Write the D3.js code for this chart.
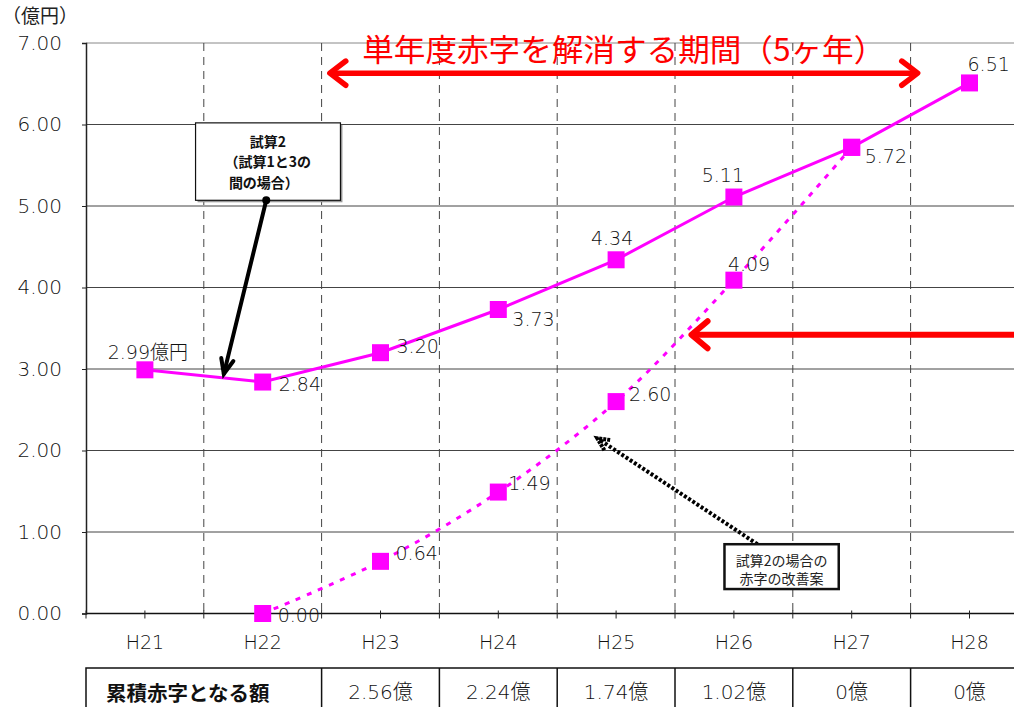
<!DOCTYPE html>
<html lang="ja">
<head>
<meta charset="utf-8">
<script src="https://cdn.jsdelivr.net/npm/d3@7"></script>
<style>
  body { margin: 0; background: #fff; }
  svg { display: block; font-family: "DejaVu Sans", "Noto Sans CJK JP", sans-serif; }
  .num { font-weight: 200; }
  .jp { font-family: "Noto Sans CJK JP", sans-serif; }
  .grid-h { stroke: #444; stroke-width: 1; }
  .grid-v { stroke: #444; stroke-width: 1; stroke-dasharray: 8, 6; }
</style>
</head>
<body>
<div id="chart"></div>
<script>
// Chart data
const categories = ["H21", "H22", "H23", "H24", "H25", "H26", "H27", "H28"]
const trialValues = [2.99, 2.84, 3.20, 3.73, 4.34, 5.11, 5.72, 6.51]
const trialLabels = ["2.99億円", "2.84", "3.20", "3.73", "4.34", "5.11", "5.72", "6.51"]
const improvedCategories = ["H22", "H23", "H24", "H25", "H26", "H27"]
const improvedValues = [0.00, 0.64, 1.49, 2.60, 4.09, 5.72]
const improvedLabels = ["0.00", "0.64", "1.49", "2.60", "4.09", ""]
const yTicks = [0, 1, 2, 3, 4, 5, 6, 7]
const tableHeader = "累積赤字となる額"
const tableCategories = ["H23", "H24", "H25", "H26", "H27", "H28"]
const tableValues = ["2.56億", "2.24億", "1.74億", "1.02億", "0億", "0億"]

// Label offsets from the marker centre [dx, dy, anchor]
const trialLabelOffsets = [[3, -18, "middle"], [16, 2, "start"], [16, -7, "start"], [14, 9, "start"],
  [-4, -22, "middle"], [-11, -22, "middle"], [13, 9, "start"], [-2, -19, "start"]]
const improvedLabelOffsets = [[15, 1, "start"], [15, -8, "start"], [10, -9, "start"], [13, -8, "start"], [-6, -16, "start"]]

const width = 1014
const height = 707
const plot = {left: 86, top: 43, bottom: 613.5, band: 117.8}
const magenta = "#ff00ff"
const red = "#ff0000"

const svg = d3.select("#chart")
  .append("svg")
  .attr("width", width)
  .attr("height", height)

const xScale = d3.scaleBand()
  .domain(categories)
  .range([plot.left, plot.left + plot.band * categories.length])
  .paddingInner(0)
  .paddingOuter(0)

const yScale = d3.scaleLinear()
  .domain([0, 7])
  .range([plot.bottom, plot.top])

const cx = d => xScale(d) + xScale.bandwidth() / 2
// position in band units, measured from the left of the plot
const bx = u => plot.left + u * xScale.bandwidth()

// Horizontal gridlines
svg.append("g")
  .selectAll("line")
  .data(yTicks.filter(d => d > 0))
  .join("line")
  .attr("class", "grid-h")
  .attr("x1", plot.left)
  .attr("x2", width)
  .attr("y1", d => yScale(d))
  .attr("y2", d => yScale(d))
  .style("stroke", d => d === 7 ? "#888" : "#444")

// Vertical dashed separators between categories
svg.append("g")
  .selectAll("line")
  .data(categories.slice(1))
  .join("line")
  .attr("class", "grid-v")
  .attr("x1", d => xScale(d))
  .attr("x2", d => xScale(d))
  .attr("y1", plot.top)
  .attr("y2", plot.bottom)

// Y axis
const yAxis = d3.axisLeft(yScale)
  .tickValues(yTicks)
  .tickSize(4)
  .tickFormat(d3.format(".2f"))
const yAxisG = svg.append("g")
  .attr("transform", "translate(" + plot.left + ",0)")
  .call(yAxis)
yAxisG.select(".domain").attr("stroke", "#222").attr("stroke-width", 1.5)
yAxisG.selectAll(".tick line").attr("stroke", "#222")
yAxisG.selectAll(".tick text")
  .attr("class", "num")
  .attr("x", -24)
  .style("font-size", "20px")
  .style("font-family", "DejaVu Sans")
  .attr("fill", "#111")

// X axis: ticks at centres and at boundaries
const xAxisG = svg.append("g")
  .attr("transform", "translate(0," + plot.bottom + ")")
xAxisG.append("line")
  .attr("x1", plot.left)
  .attr("x2", width)
  .attr("stroke", "#111")
  .attr("stroke-width", 1.5)
const tickXs = []
categories.forEach(c => {
  tickXs.push(xScale(c))
  tickXs.push(cx(c))
})
xAxisG.selectAll(".xtick")
  .data(tickXs)
  .join("line")
  .attr("class", "xtick")
  .attr("x1", d => d)
  .attr("x2", d => d)
  .attr("y1", -3)
  .attr("y2", 5)
  .attr("stroke", "#222")
xAxisG.selectAll(".xlabel")
  .data(categories)
  .join("text")
  .attr("class", "xlabel num")
  .attr("x", d => cx(d))
  .attr("y", 28)
  .attr("text-anchor", "middle")
  .attr("dominant-baseline", "central")
  .style("font-size", "19px")
  .attr("fill", "#111")
  .text(d => d)

// Unit label
svg.append("text")
  .attr("class", "jp")
  .attr("x", 2)
  .attr("y", 14)
  .attr("dominant-baseline", "central")
  .style("font-size", "19px")
  .attr("fill", "#222")
  .text("（億円）")

// Improved plan (dotted, smoothed)
const improvedLine = d3.line()
  .x((d, i) => cx(improvedCategories[i]))
  .y(d => yScale(d))
  .curve(d3.curveCatmullRom.alpha(0.5))
svg.append("path")
  .datum(improvedValues)
  .attr("d", improvedLine)
  .attr("fill", "none")
  .attr("stroke", magenta)
  .attr("stroke-width", 3)
  .attr("stroke-dasharray", "5,7")

// Trial 2 line (solid)
const trialLine = d3.line()
  .x((d, i) => cx(categories[i]))
  .y(d => yScale(d))
svg.append("path")
  .datum(trialValues)
  .attr("d", trialLine)
  .attr("fill", "none")
  .attr("stroke", magenta)
  .attr("stroke-width", 3)

// Markers
const markerSize = 17
const drawMarkers = (cats, values) => {
  svg.append("g")
    .selectAll("rect")
    .data(values)
    .join("rect")
    .attr("x", (d, i) => cx(cats[i]) - markerSize / 2)
    .attr("y", d => yScale(d) - markerSize / 2)
    .attr("width", markerSize)
    .attr("height", markerSize)
    .attr("fill", magenta)
}
drawMarkers(improvedCategories, improvedValues)
drawMarkers(categories, trialValues)

// Data labels
const drawLabels = (cats, values, labels, offsets) => {
  svg.append("g")
    .selectAll("text")
    .data(values.map((v, i) => ({v: v, c: cats[i], t: labels[i], o: offsets[i]})).filter(d => d.t))
    .join("text")
    .attr("class", "num")
    .attr("x", d => cx(d.c) + d.o[0])
    .attr("y", d => yScale(d.v) + d.o[1])
    .attr("text-anchor", d => d.o[2])
    .attr("dominant-baseline", "central")
    .style("font-size", "19px")
    .attr("fill", "#111")
    .text(d => d.t)
}
drawLabels(categories, trialValues, trialLabels, trialLabelOffsets)
drawLabels(improvedCategories, improvedValues, improvedLabels, improvedLabelOffsets)

// Chevron helper for arrow heads
const chevron = (x1, y1, x2, y2, len, angle) => {
  const a = Math.atan2(y1 - y2, x1 - x2)
  const p1 = [x2 + len * Math.cos(a + angle), y2 + len * Math.sin(a + angle)]
  const p2 = [x2 + len * Math.cos(a - angle), y2 + len * Math.sin(a - angle)]
  return "M" + p1 + "L" + x2 + "," + y2 + "L" + p2
}

// Red title and double arrow
svg.append("text")
  .attr("class", "jp")
  .attr("x", bx(4.565))
  .attr("y", yScale(6.94))
  .attr("text-anchor", "middle")
  .attr("dominant-baseline", "central")
  .style("font-size", "31px")
  .attr("fill", red)
  .attr("textLength", 523)
  .attr("lengthAdjust", "spacingAndGlyphs")
  .text("単年度赤字を解消する期間（5ヶ年）")

const topArrow = {x1: bx(2.07), x2: bx(7.06), y: yScale(6.63)}
const arrowG = svg.append("g")
  .attr("fill", "none")
  .attr("stroke", red)
  .attr("stroke-width", 5.5)
  .attr("stroke-linecap", "round")
  .attr("stroke-linejoin", "round")
arrowG.append("line")
  .attr("x1", topArrow.x1 + 3).attr("x2", topArrow.x2 - 3)
  .attr("y1", topArrow.y).attr("y2", topArrow.y)
arrowG.append("path").attr("d", chevron(topArrow.x2, topArrow.y, topArrow.x1, topArrow.y, 20, 0.65))
arrowG.append("path").attr("d", chevron(topArrow.x1, topArrow.y, topArrow.x2, topArrow.y, 20, 0.65))

// Red arrow coming from the right
const sideArrow = {x1: bx(8.3), x2: bx(5.14), y: yScale(3.42)}
arrowG.append("line")
  .attr("x1", sideArrow.x1).attr("x2", sideArrow.x2 + 3)
  .attr("y1", sideArrow.y).attr("y2", sideArrow.y)
  .attr("stroke-width", 6)
arrowG.append("path")
  .attr("d", chevron(sideArrow.x1, sideArrow.y, sideArrow.x2, sideArrow.y, 21, 0.7))
  .attr("stroke-width", 6)

// Callout box: trial 2
const box1 = {x1: bx(0.93), x2: bx(2.16), y1: yScale(6.02), y2: yScale(5.07)}
svg.append("rect")
  .attr("x", box1.x1 + 2).attr("y", box1.y1 + 2)
  .attr("width", box1.x2 - box1.x1).attr("height", box1.y2 - box1.y1)
  .attr("fill", "#999")
svg.append("rect")
  .attr("x", box1.x1).attr("y", box1.y1)
  .attr("width", box1.x2 - box1.x1).attr("height", box1.y2 - box1.y1)
  .attr("fill", "#fff")
  .attr("stroke", "#111")
  .attr("stroke-width", 1.2)
const box1Lines = [["試算2", "middle", 0.5], ["（試算1と3の", "start", 0.2], ["間の場合）", "start", 0.23]]
svg.append("g")
  .selectAll("text")
  .data(box1Lines)
  .join("text")
  .attr("class", "jp")
  .attr("x", d => box1.x1 + d[2] * (box1.x2 - box1.x1))
  .attr("y", (d, i) => box1.y1 + 24 + i * 20.5)
  .attr("text-anchor", d => d[1])
  .style("font-size", "14px")
  .style("font-weight", "bold")
  .attr("fill", "#111")
  .text(d => d[0])

// Black arrow from box 1 to the trial line
const blackArrow = {x1: bx(1.53), y1: yScale(5.07), x2: bx(1.17), y2: yScale(2.94)}
const blackG = svg.append("g")
  .attr("fill", "none")
  .attr("stroke", "#000")
  .attr("stroke-width", 4)
  .attr("stroke-linecap", "round")
blackG.append("line")
  .attr("x1", blackArrow.x1).attr("y1", blackArrow.y1)
  .attr("x2", blackArrow.x2).attr("y2", blackArrow.y2)
blackG.append("path").attr("d", chevron(blackArrow.x1, blackArrow.y1, blackArrow.x2, blackArrow.y2, 16, 0.4))
svg.append("circle")
  .attr("cx", blackArrow.x1).attr("cy", blackArrow.y1)
  .attr("r", 4).attr("fill", "#000")

// Dotted black arrow from box 2 to the improved line
const dotArrow = {x1: bx(5.70), y1: yScale(0.85), x2: bx(4.34), y2: yScale(2.15)}
const dotG = svg.append("g")
  .attr("fill", "none")
  .attr("stroke", "#000")
  .attr("stroke-width", 4)
dotG.append("line")
  .attr("x1", dotArrow.x1).attr("y1", dotArrow.y1)
  .attr("x2", dotArrow.x2 + 3).attr("y2", dotArrow.y2 + 2)
  .attr("stroke-dasharray", "3,2")
dotG.append("path")
  .attr("d", chevron(dotArrow.x1, dotArrow.y1, dotArrow.x2, dotArrow.y2, 14, 0.45))
  .attr("stroke-dasharray", "3,1")

// Callout box: improvement
const box2 = {x1: bx(5.42), x2: bx(6.39), y1: yScale(0.85), y2: yScale(0.30)}
svg.append("rect")
  .attr("x", box2.x1).attr("y", box2.y1)
  .attr("width", box2.x2 - box2.x1).attr("height", box2.y2 - box2.y1)
  .attr("fill", "#fff")
  .attr("stroke", "#111")
  .attr("stroke-width", 2.5)
const box2Text = svg.append("text")
  .attr("class", "jp")
  .style("font-size", "14px")
  .attr("fill", "#222")
box2Text.selectAll("tspan")
  .data(["試算2の場合の", "赤字の改善案"])
  .join("tspan")
  .attr("x", (box2.x1 + box2.x2) / 2)
  .attr("y", (d, i) => box2.y1 + 22 + i * 18)
  .attr("text-anchor", "middle")
  .text(d => d)

// Table of accumulated deficits
const tableTop = 668
const tableG = svg.append("g")
  .attr("fill", "none")
  .attr("stroke", "#111")
  .attr("stroke-width", 1.5)
tableG.append("rect")
  .attr("x", plot.left)
  .attr("y", tableTop)
  .attr("width", plot.band * categories.length)
  .attr("height", 60)
tableG.selectAll(".divider")
  .data(tableCategories)
  .join("line")
  .attr("class", "divider")
  .attr("x1", d => xScale(d))
  .attr("x2", d => xScale(d))
  .attr("y1", tableTop)
  .attr("y2", height + 10)
svg.append("text")
  .attr("class", "jp")
  .attr("x", 106)
  .attr("y", 692)
  .attr("dominant-baseline", "central")
  .style("font-size", "20.5px")
  .style("font-weight", "bold")
  .attr("fill", "#111")
  .text(tableHeader)
svg.append("g")
  .selectAll("text")
  .data(tableValues)
  .join("text")
  .attr("class", "num")
  .attr("x", (d, i) => cx(tableCategories[i]))
  .attr("y", 692)
  .attr("text-anchor", "middle")
  .attr("dominant-baseline", "central")
  .style("font-size", "20px")
  .attr("fill", "#111")
  .text(d => d)
</script>
</body>
</html>
